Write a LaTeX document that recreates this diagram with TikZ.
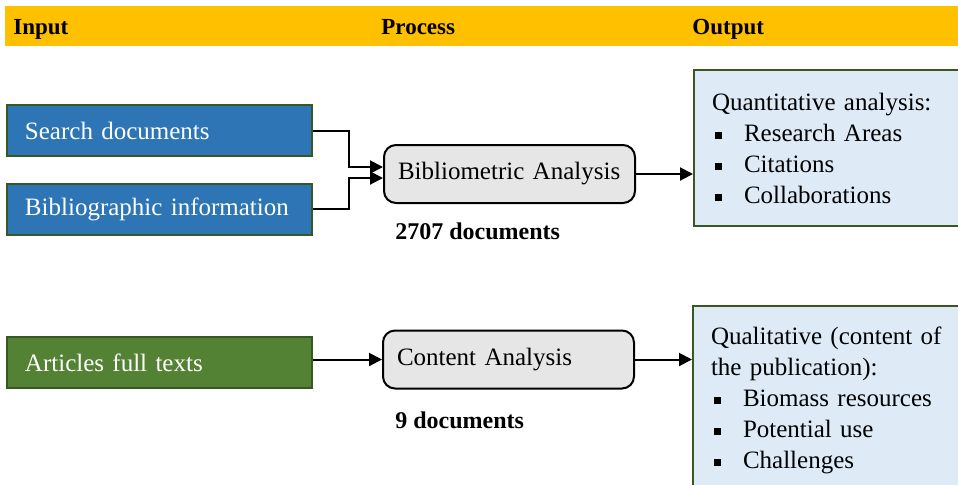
\documentclass[tikz,border=0pt]{standalone}
\usepackage{fontspec}
\setmainfont{Liberation Serif}
\usetikzlibrary{positioning}
\usetikzlibrary{arrows.meta}

\definecolor{headbar}{HTML}{FFC000}
\definecolor{inblue}{HTML}{2E75B6}
\definecolor{ingreen}{HTML}{548235}
\definecolor{darkgreen}{HTML}{385723}
\definecolor{procgrey}{HTML}{E7E6E6}
\definecolor{outblue}{HTML}{DEEBF7}

\newcommand{\sqbullet}{\makebox[16pt][l]{\hspace{1.5pt}\rule[1pt]{3.5pt}{3.5pt}}}

\tikzset{
  headtxt/.style={anchor=base west, inner sep=0pt, font=\bfseries\fontsize{11.5}{13}\selectfont},
  inbox/.style={rectangle, draw=darkgreen, line width=1pt, text=white,
    text width=134.5pt, inner xsep=9pt, minimum height=25.5pt, align=left,
    font=\fontsize{12.5}{14}\selectfont},
  procbox/.style={rectangle, rounded corners=6pt, draw=black, fill=procgrey, line width=1pt,
    text width=111.5pt, inner xsep=7pt, minimum height=29pt, align=left,
    font=\fontsize{12.5}{14}\selectfont},
  outbox/.style={rectangle, draw=darkgreen, fill=outblue, line width=1pt, anchor=north west,
    text width=134pt, inner xsep=9pt, align=left,
    font=\fontsize{12.5}{15.5}\selectfont},
  count/.style={anchor=base west, inner sep=0pt, font=\bfseries\fontsize{12}{14}\selectfont},
  flow/.style={line width=1pt, -{Triangle[length=6.5pt,width=6.5pt]}}
}

\begin{document}
\begin{tikzpicture}[x=0.5pt,y=-0.5pt]
\clip (0,0) rectangle (958,484);
\fill[white] (0,0) rectangle (958,484);

\fill[headbar] (5,6) rectangle (958,46);
\node[headtxt] (input) at (13,34) {Input};
\node[headtxt] (process) at (381,34) {Process};
\node[headtxt] (output) at (692,34) {Output};

\node[inbox, fill=inblue] (search) at (159.5,130.5) {Search documents};
\node[inbox, fill=inblue] (biblio) at (159.5,209) {Bibliographic information};
\node[inbox, fill=ingreen] (articles) at (159.5,362.5) {Articles full texts};

\node[procbox] (bibana) at (509.5,174) {Bibliometric Analysis};
\node[procbox] (content) at (508.5,359.5) {Content Analysis};

\node[count] (bibcount) at (395,239) {2707 documents};
\node[count] (contcount) at (395,428) {9 documents};

\node[outbox, minimum height=78pt] (quant) at (693,69) {Quantitative analysis:\\
  \sqbullet Research Areas\\
  \sqbullet Citations\\
  \sqbullet Collaborations};
\node[outbox, minimum height=94pt] (qual) at (692,305) {Qualitative (content of\\
  the publication):\\
  \sqbullet Biomass resources\\
  \sqbullet Potential use\\
  \sqbullet Challenges};

\draw[flow] (search.east) -- ++(36,0) |- ([yshift=3.5pt]bibana.west);
\draw[flow] (biblio.east) -- ++(36,0) |- ([yshift=-2pt]bibana.west);
\draw[flow] (articles.east |- content.west) -- (content.west);
\draw[flow] (bibana.east) -- (bibana.east -| quant.west);
\draw[flow] (content.east) -- (content.east -| qual.west);
\end{tikzpicture}
\end{document}
